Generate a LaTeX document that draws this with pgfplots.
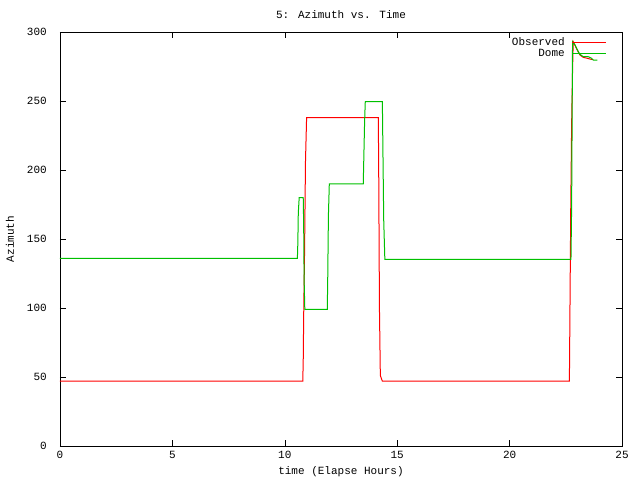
\documentclass[border=0pt]{standalone}
\usepackage{fontspec}
\setmainfont{Liberation Mono}
\usepackage{pgfplots}
\pgfplotsset{compat=1.18}
\definecolor{gpred}{RGB}{255,0,0}
\definecolor{gpgreen}{RGB}{0,192,0}
\begin{document}
\fontsize{11}{11}\selectfont
\begin{tikzpicture}
\path[use as bounding box] (-60pt,-34pt) rectangle (580pt,446pt);
\begin{axis}[
  scale only axis,
  width=562pt, height=414pt,
  xmin=0, xmax=25, ymin=0, ymax=300,
  xtick={0,5,...,25}, ytick={0,50,...,300},
  tick align=inside, major tick length=6pt,
  tick style={black, line width=0.6pt},
  axis line style={black, line width=0.8pt},
  /pgf/number format/assume math mode=true,
  tick label style={font=\fontsize{11}{11}\selectfont},
  yticklabel style={inner sep=0pt, anchor=east, xshift=-13pt},
  xticklabel style={inner sep=0pt, anchor=north, yshift=-5pt},
  every axis title shift=0pt,
  title={5: Azimuth vs. Time},
  title style={at={(axis description cs:0.5,1.041)}, anchor=center, inner sep=0pt},
  xlabel={time (Elapse Hours)},
  xlabel style={at={(axis description cs:0.5,-0.063)}, anchor=center, inner sep=0pt},
  ylabel={Azimuth},
  ylabel style={at={(axis description cs:-0.089,0.5)}, anchor=center, inner sep=0pt},
  label style={font=\fontsize{11}{11}\selectfont},
  legend plot pos=right,
  legend cell align=right,
  legend style={at={(axis description cs:1,1)}, anchor=north east, xshift=-15pt, yshift=-5pt,
    draw=none, fill=none, inner sep=0pt, font=\fontsize{11}{11}\selectfont,
    nodes={inner sep=0pt, text height=8pt, text depth=3pt},
    column sep=7pt},
  legend image code/.code={\draw[#1] (0pt,0pt) -- (34pt,0pt);},
]
\addplot[gpred, line width=1pt] coordinates {
(0,47) (10.80,47) (10.82,62) (10.84,94) (10.88,142) (10.92,206) (10.97,238)
(14.16,238) (14.18,193) (14.21,100) (14.25,51) (14.30,48.8) (14.34,47)
(22.66,47) (22.68,88) (22.72,172) (22.76,233) (22.80,272) (22.83,293)
(22.91,290.4) (22.98,287.8) (23.06,285.3) (23.13,283.3) (23.28,281.6) (23.45,281) (23.60,280.3) (23.72,280)
};
\addlegendentry{Observed}
\addplot[gpgreen, line width=1pt] coordinates {
(0,136) (10.56,136) (10.58,147) (10.60,168.6) (10.64,180) (10.82,180) (10.84,160) (10.86,120) (10.89,99)
(11.89,99) (11.91,121.5) (11.94,167) (11.98,190) (13.49,190) (13.51,205) (13.55,235) (13.58,249.5)
(14.34,249.5) (14.36,221) (14.40,164) (14.45,135.3) (22.73,135.3) (22.76,174.6) (22.80,293)
(22.91,290.6) (22.98,288.2) (23.06,285.7) (23.13,283.8) (23.28,282.1) (23.50,282.1) (23.65,280.9) (23.72,279.7) (23.90,279.7)
};
\addlegendentry{Dome}
\end{axis}
\end{tikzpicture}
\end{document}
